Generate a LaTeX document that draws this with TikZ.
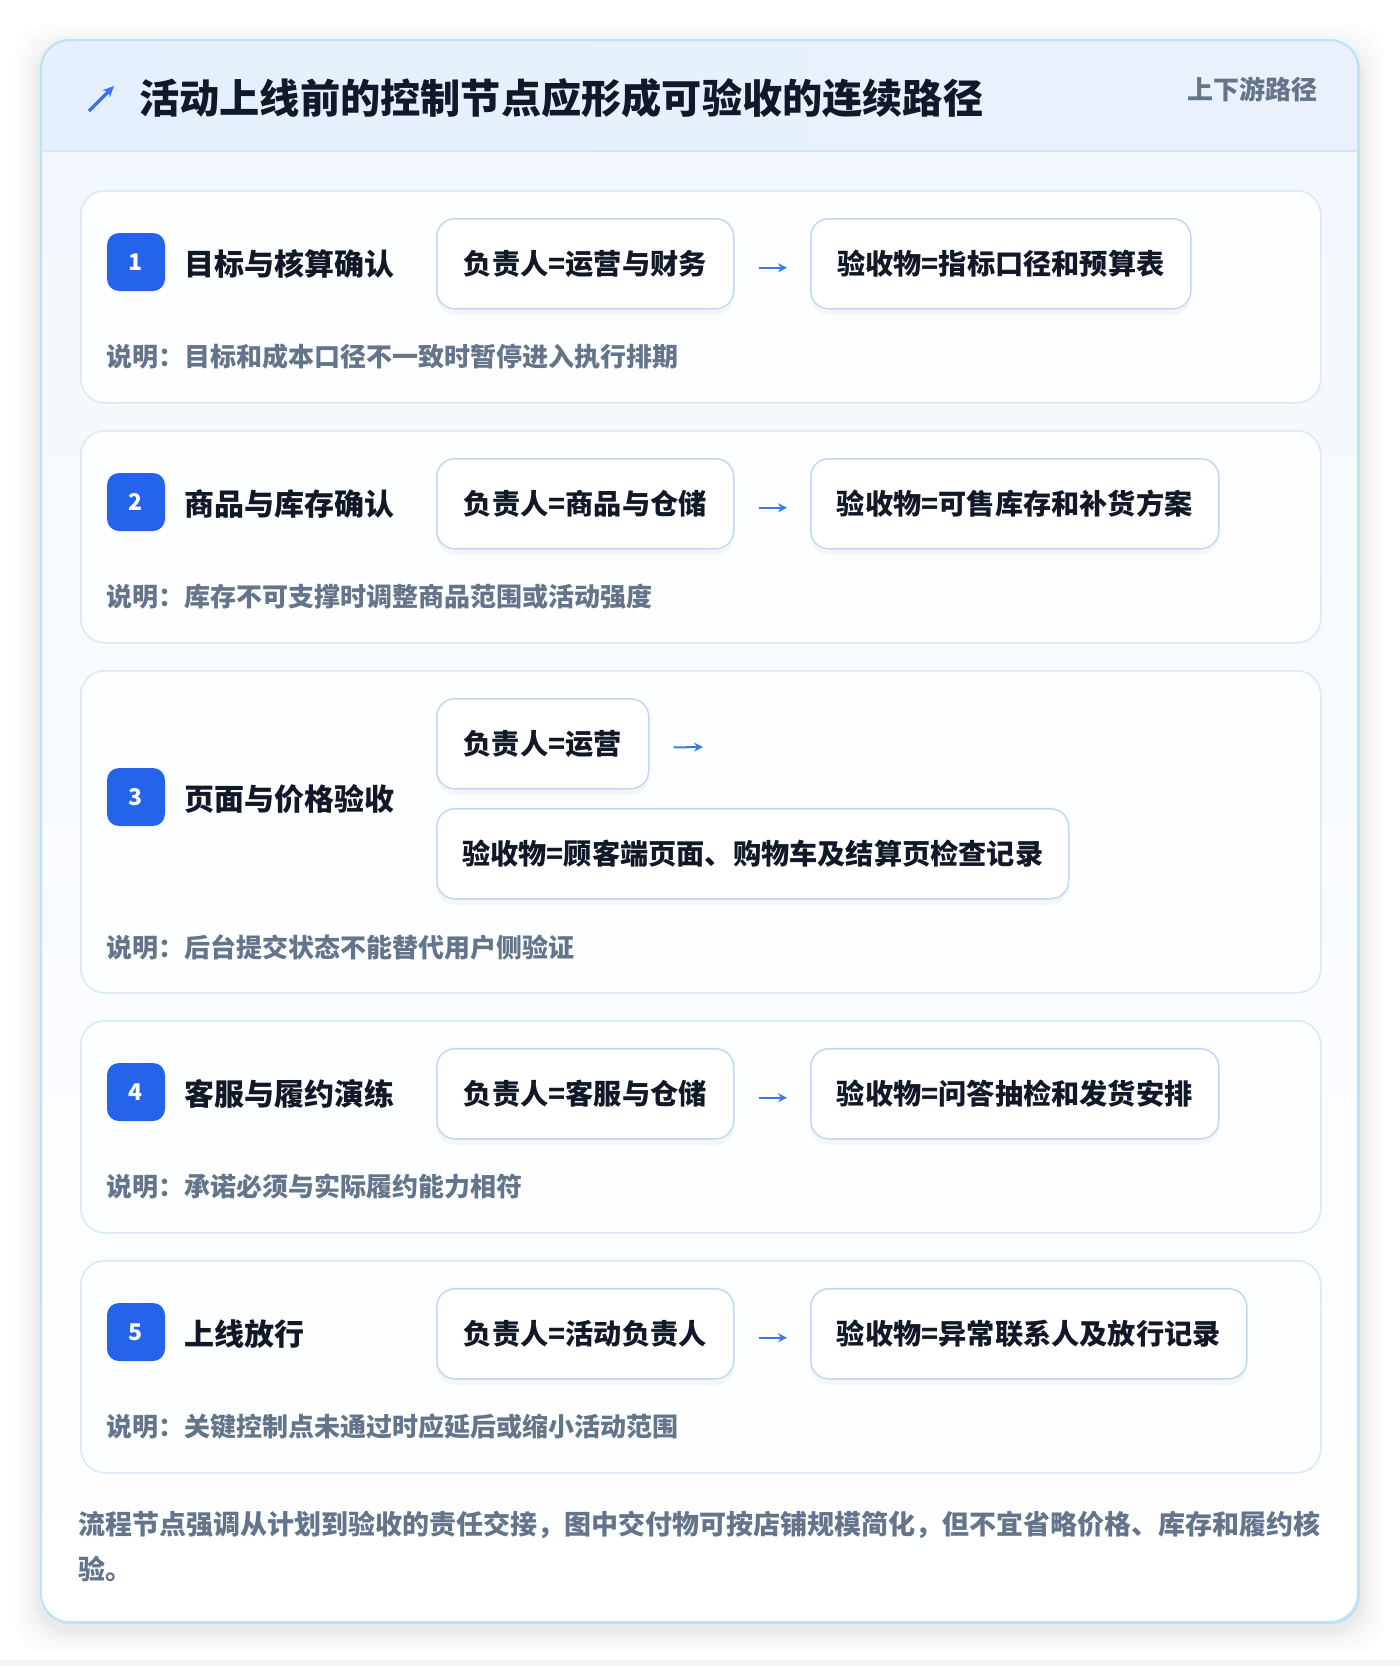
\documentclass[tikz,border=0pt]{standalone}
\usepackage{fontspec}
\setmainfont{Noto Sans CJK SC}
\usetikzlibrary{arrows.meta,shadows}
\definecolor{pagebg}{HTML}{F4F5F7}
\definecolor{outerborder}{HTML}{BEE3F6}
\definecolor{headerfill}{HTML}{E4F0FD}
\definecolor{headerfillb}{HTML}{EAF1FD}
\definecolor{headerline}{HTML}{D3E6F8}
\definecolor{bodyfill}{HTML}{F3F8FE}
\definecolor{cardborder}{HTML}{D9E8FA}
\definecolor{cardfill}{HTML}{FDFEFF}
\definecolor{boxborder}{HTML}{BFD8F7}
\definecolor{badgeblue}{HTML}{2563EB}
\definecolor{arrowblue}{HTML}{3B7DDD}
\definecolor{darktext}{HTML}{111827}
\definecolor{graytext}{HTML}{64748B}
\tikzset{
  card/.style={draw=cardborder, line width=1.5pt, fill=cardfill, rounded corners=24pt, anchor=north west, inner sep=0pt},
  badge/.style={fill=badgeblue, rounded corners=12pt, minimum width=58pt, minimum height=58pt, inner sep=0pt, text=white, font=\fontsize{23}{23}\selectfont\bfseries},
  steplabel/.style={anchor=west, text=darktext, font=\fontsize{30}{30}\selectfont\bfseries, inner sep=0pt},
  pill/.style={draw=boxborder, line width=1.5pt, fill=white, rounded corners=18pt, minimum height=90pt, inner sep=0pt, anchor=north west, text=darktext, font=\fontsize{28.2}{28.2}\selectfont\bfseries,
    drop shadow={opacity=0.06, shadow xshift=0pt, shadow yshift=-6pt, fill=black!60}},
  note/.style={anchor=west, text=graytext, font=\fontsize{26}{26}\selectfont\bfseries, inner sep=0pt},
  flow/.style={draw=arrowblue, line width=2pt, -{Stealth[length=9pt,width=9pt]}},
}
\begin{document}
\begin{tikzpicture}[x=1pt,y=-1pt]
\useasboundingbox (0,0) rectangle (1400,1666);
\fill[white] (0,0) rectangle (1400,1666);
\fill[pagebg] (0,1660) rectangle (1400,1666);
% outer shadow
\foreach \i/\o in {26/0.010,20/0.012,14/0.015,9/0.018,5/0.022}{
  \fill[black, opacity=\o, rounded corners=34pt] (41-\i,40-\i+10) rectangle (1358+\i,1622+\i+6);
}
% outer card
\node[draw=outerborder, line width=2pt, fill=white, rounded corners=28pt, anchor=north west, inner sep=0pt,
      minimum width=1317pt, minimum height=1582pt] (outer) at (41,40) {};
\begin{scope}
\clip[rounded corners=28pt] (42,41) rectangle (1357,1621);
\shade[left color=headerfill, right color=headerfillb] (42,41) rectangle (1357,151);
\shade[top color=bodyfill, bottom color=white] (42,151) rectangle (1357,1621);
\draw[headerline, line width=1.5pt] (42,151) -- (1357,151);
\end{scope}
\draw[outerborder, line width=2pt, rounded corners=28pt] (41,40) rectangle (1358,1622);
% header
\coordinate (icA) at (89,111);
\coordinate (icB) at (114,86);
\draw[badgeblue!90!white, line width=3.4pt, -{Stealth[length=11pt,width=10pt]}] (icA) -- (icB);
\node[anchor=west, inner sep=0pt, text=darktext, font=\fontsize{40.2}{40.2}\selectfont\bfseries] (title) at (139,98) {活动上线前的控制节点应形成可验收的连续路径};
\node[anchor=east, inner sep=0pt, text=graytext, font=\fontsize{26}{26}\selectfont\bfseries] (tag) at (1318,89) {上下游路径};

% ---- step 1
\node[card, minimum width=1240pt, minimum height=212pt] (c1) at (80,190) {};
\node[badge] (b1) at (136,262) {1};
\node[steplabel] (l1) at (184,264) {目标与核算确认};
\node[pill, minimum width=297pt] (o1) at (436,218) {负责人=运营与财务};
\node[pill, minimum width=380pt] (d1) at (810,218) {验收物=指标口径和预算表};
\draw[flow, shorten <=24pt, shorten >=23pt] ([yshift=-4pt]o1.east) -- ([yshift=-4pt]d1.west);
\node[note] (n1) at (106,357) {说明：目标和成本口径不一致时暂停进入执行排期};

% ---- step 2
\node[card, minimum width=1240pt, minimum height=212pt] (c2) at (80,430) {};
\node[badge] (b2) at (136,502) {2};
\node[steplabel] (l2) at (184,504) {商品与库存确认};
\node[pill, minimum width=297pt] (o2) at (436,458) {负责人=商品与仓储};
\node[pill, minimum width=408pt] (d2) at (810,458) {验收物=可售库存和补货方案};
\draw[flow, shorten <=24pt, shorten >=23pt] ([yshift=-4pt]o2.east) -- ([yshift=-4pt]d2.west);
\node[note] (n2) at (106,597) {说明：库存不可支撑时调整商品范围或活动强度};

% ---- step 3
\node[card, minimum width=1240pt, minimum height=322pt] (c3) at (80,670) {};
\node[badge] (b3) at (136,797) {3};
\node[steplabel] (l3) at (184,799) {页面与价格验收};
\node[pill, minimum width=212pt] (o3) at (436,698) {负责人=运营};
\coordinate (e3) at (703,747);
\draw[flow, shorten <=24pt] ([yshift=-4pt]o3.east) -- (e3);
\node[pill, minimum width=632pt] (d3) at (436,808) {验收物=顾客端页面、购物车及结算页检查记录};
\node[note] (n3) at (106,947) {说明：后台提交状态不能替代用户侧验证};

% ---- step 4
\node[card, minimum width=1240pt, minimum height=212pt] (c4) at (80,1020) {};
\node[badge] (b4) at (136,1092) {4};
\node[steplabel] (l4) at (184,1094) {客服与履约演练};
\node[pill, minimum width=297pt] (o4) at (436,1048) {负责人=客服与仓储};
\node[pill, minimum width=408pt] (d4) at (810,1048) {验收物=问答抽检和发货安排};
\draw[flow, shorten <=24pt, shorten >=23pt] ([yshift=-4pt]o4.east) -- ([yshift=-4pt]d4.west);
\node[note] (n4) at (106,1187) {说明：承诺必须与实际履约能力相符};

% ---- step 5
\node[card, minimum width=1240pt, minimum height=212pt] (c5) at (80,1260) {};
\node[badge] (b5) at (136,1332) {5};
\node[steplabel] (l5) at (184,1334) {上线放行};
\node[pill, minimum width=297pt] (o5) at (436,1288) {负责人=活动负责人};
\node[pill, minimum width=436pt] (d5) at (810,1288) {验收物=异常联系人及放行记录};
\draw[flow, shorten <=24pt, shorten >=23pt] ([yshift=-4pt]o5.east) -- ([yshift=-4pt]d5.west);
\node[note] (n5) at (106,1427) {说明：关键控制点未通过时应延后或缩小活动范围};

% footer
\node[anchor=north west, inner sep=0pt, text=graytext, align=left, font=\fontsize{27}{45}\selectfont\bfseries] (foot) at (78,1511)
  {流程节点强调从计划到验收的责任交接，图中交付物可按店铺规模简化，但不宜省略价格、库存和履约核\\验。};
\end{tikzpicture}
\end{document}
